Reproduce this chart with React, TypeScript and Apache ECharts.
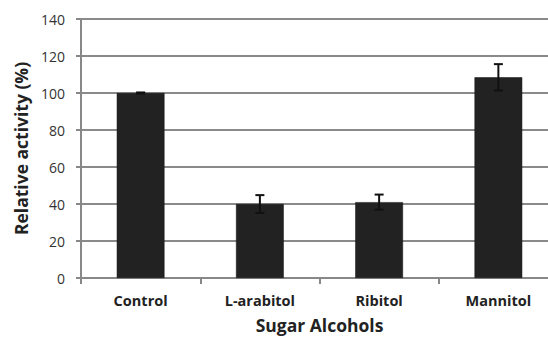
import React, { useEffect, useRef } from "react";
import * as echarts from "echarts";

const categories = ["Control", "L-arabitol", "Ribitol", "Mannitol"];
const activity = [100, 40, 41, 108.5];
const errors = [0.3, 4.8, 4.1, 7.1];
const yTicks = [0, 20, 40, 60, 80, 100, 120, 140];

const FONT = "'Open Sans', 'Noto Sans', sans-serif";

export default function App() {
  const ref = useRef<HTMLDivElement>(null);

  useEffect(() => {
    if (!ref.current) return;
    const chart = echarts.init(ref.current, undefined, { renderer: "svg" });

    const errorData = categories.map((_, i) => [i, activity[i] - errors[i], activity[i] + errors[i]]);

    chart.setOption({
      animation: false,
      backgroundColor: "#ffffff",
      grid: {
        left: 81,
        top: 19,
        bottom: 60,
        right: -10,
        containLabel: false,
        outerBoundsMode: "none",
      },
      xAxis: {
        type: "category",
        data: categories,
        name: "Sugar Alcohols",
        nameLocation: "middle",
        nameGap: 38,
        nameTextStyle: { fontFamily: FONT, fontSize: 17.5, fontWeight: "bold", color: "#222" },
        axisLine: { lineStyle: { color: "#888", width: 2 } },
        axisTick: { show: true, length: 6, lineStyle: { color: "#888", width: 2 } },
        axisLabel: { fontFamily: FONT, fontSize: 14.5, fontWeight: "bold", color: "#222", margin: 15 },
      },
      yAxis: {
        type: "value",
        min: yTicks[0],
        max: yTicks[yTicks.length - 1],
        interval: 20,
        name: "Relative activity (%)",
        nameLocation: "middle",
        nameGap: 49,
        nameTextStyle: { fontFamily: FONT, fontSize: 17.5, fontWeight: "bold", color: "#222" },
        axisLine: { show: true, lineStyle: { color: "#888", width: 2 } },
        axisTick: { show: true, length: 5, lineStyle: { color: "#888", width: 2 } },
        axisLabel: { fontFamily: FONT, fontSize: 14, color: "#333", margin: 16 },
        splitLine: { show: true, lineStyle: { color: "#8a8a8a", width: 2 } },
      },
      series: [
        {
          type: "bar",
          data: activity,
          barWidth: "40%",
          itemStyle: { color: "#222222", borderColor: "#111", borderWidth: 0.5 },
          z: 2,
        },
        {
          type: "custom",
          data: errorData,
          z: 3,
          renderItem: (params: any, api: any) => {
            const x = api.value(0);
            const lo = api.coord([x, api.value(1)]);
            const hi = api.coord([x, api.value(2)]);
            const half = 4.5;
            const style = { stroke: "#111", lineWidth: 2 };
            return {
              type: "group",
              children: [
                { type: "line", shape: { x1: lo[0], y1: lo[1], x2: hi[0], y2: hi[1] }, style },
                { type: "line", shape: { x1: hi[0] - half, y1: hi[1], x2: hi[0] + half, y2: hi[1] }, style },
                { type: "line", shape: { x1: lo[0] - half, y1: lo[1], x2: lo[0] + half, y2: lo[1] }, style },
              ],
            };
          },
        },
      ],
    });

    return () => chart.dispose();
  }, []);

  return (
    <div
      ref={ref}
      style={{ position: "fixed", left: 0, top: 0, width: 548, height: 338, background: "#fff" }}
    />
  );
}
